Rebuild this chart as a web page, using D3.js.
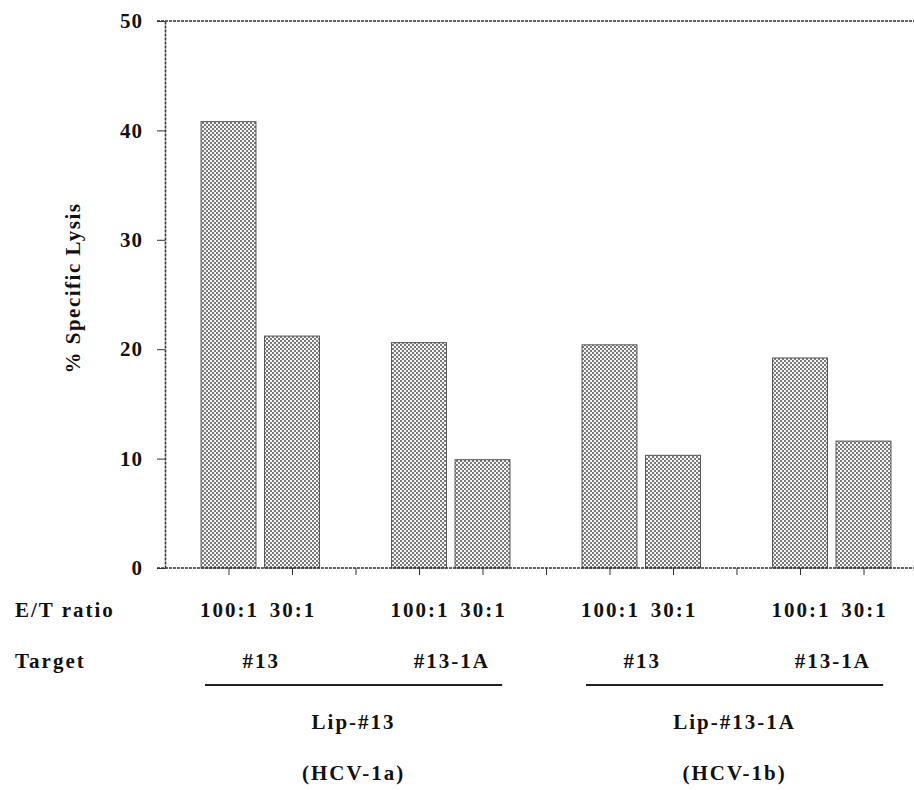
<!DOCTYPE html>
<html>
<head>
<meta charset="utf-8">
<script src="https://cdn.jsdelivr.net/npm/d3@7"></script>
<style>
  body { margin: 0; background: #fff; }
</style>
</head>
<body>
<div id="chart"></div>
<script>
// data
var ratios = ["100:1", "30:1"];
var targets = ["#13", "#13-1A", "#13", "#13-1A"];
var effectors = ["Lip-#13", "Lip-#13-1A"];
var strains = ["(HCV-1a)", "(HCV-1b)"];
var lysis = [40.8, 21.2, 20.6, 9.9, 20.4, 10.3, 19.2, 11.6];
var yTicks = [0, 10, 20, 30, 40, 50];

var W = 914, H = 790;
var serif = "'Liberation Serif'";

var svg = d3.select("#chart").append("svg")
  .attr("width", W)
  .attr("height", H);

// halftone fill like the scanned bars
var defs = svg.append("defs");
var pat = defs.append("pattern")
  .attr("id", "dots")
  .attr("patternUnits", "userSpaceOnUse")
  .attr("width", 4).attr("height", 4);
pat.append("rect").attr("width", 4).attr("height", 4).attr("fill", "#f4f4f4");
pat.append("rect").attr("x", 0).attr("y", 0).attr("width", 2).attr("height", 2).attr("fill", "#7a7a7a");
pat.append("rect").attr("x", 2).attr("y", 2).attr("width", 2).attr("height", 2).attr("fill", "#7a7a7a");

// one slot per bar, blank slot between targets
var x = d3.scaleLinear().domain([0, 12]).range([165, 927]);
var y = d3.scaleLinear().domain([0, 50]).range([568, 21]);
var step = x(1) - x(0);
var barW = step * 0.865;

var bars = lysis.map(function(v, i) {
  var t = Math.floor(i / 2), r = i % 2;
  return { value: v, slot: t * 3 + r + 1, ratio: ratios[r] };
});

svg.selectAll("rect.bar")
  .data(bars)
  .enter()
  .append("rect")
    .attr("class", "bar")
    .attr("x", function(d) { return x(d.slot) - barW / 2; })
    .attr("y", function(d) { return y(d.value); })
    .attr("width", barW)
    .attr("height", function(d) { return y(0) - y(d.value); })
    .attr("fill", "url(#dots)")
    .attr("stroke", "#555")
    .attr("stroke-width", 1);

// frame lines
var lineCol = "#333";
svg.append("line")
  .attr("x1", 157).attr("x2", W)
  .attr("y1", y(50)).attr("y2", y(50))
  .attr("stroke", lineCol).attr("stroke-width", 1.6)
  .attr("stroke-dasharray", "3,1");

// y axis
var yAxis = d3.axisLeft(y)
  .tickValues(yTicks)
  .tickSize(8)
  .tickSizeOuter(0)
  .tickPadding(14);
var gy = svg.append("g")
  .attr("transform", "translate(" + x(0) + ",0)")
  .call(yAxis);
gy.select(".domain").attr("stroke", lineCol).attr("stroke-width", 1.6).attr("stroke-dasharray", "3,1");
gy.selectAll(".tick line").attr("stroke", lineCol);
gy.selectAll(".tick text")
  .attr("font-family", serif)
  .attr("font-weight", "bold")
  .attr("font-size", 21)
  .attr("letter-spacing", "1px")
  .attr("fill", "#111");

// x axis
var xAxis = d3.axisBottom(x)
  .tickValues(d3.range(1, 12))
  .tickSize(7)
  .tickSizeOuter(0)
  .tickFormat("");
var gx = svg.append("g")
  .attr("transform", "translate(0," + y(0) + ")")
  .call(xAxis);
gx.select(".domain").remove();
gx.selectAll(".tick line").attr("stroke", lineCol);
svg.append("line")
  .attr("x1", 157).attr("x2", W)
  .attr("y1", y(0)).attr("y2", y(0))
  .attr("stroke", lineCol).attr("stroke-width", 1.6)
  .attr("stroke-dasharray", "3,1");

// shared text look
var txt = function(sel, spacing) {
  sel.attr("font-family", serif)
    .attr("font-weight", "bold")
    .attr("font-size", 21)
    .attr("letter-spacing", (spacing || 2) + "px")
    .attr("fill", "#111");
};

// y title
svg.append("text")
  .attr("transform", "translate(80,288) rotate(-90)")
  .attr("text-anchor", "middle")
  .call(txt, 1.5)
  .text("% Specific Lysis");

// category rows under the axis
svg.append("text").attr("x", 15).attr("y", 617).call(txt).text("E/T ratio");
svg.append("text").attr("x", 15).attr("y", 668).call(txt).text("Target");

svg.selectAll("text.ratio")
  .data(bars)
  .enter()
  .append("text")
    .attr("class", "ratio")
    .attr("x", function(d) { return x(d.slot) + 1; })
    .attr("y", 617)
    .attr("text-anchor", "middle")
    .call(txt)
    .text(function(d) { return d.ratio; });

svg.selectAll("text.target")
  .data(targets)
  .enter()
  .append("text")
    .attr("class", "target")
    .attr("x", function(d, i) { return x(i * 3 + 1.5) + 1; })
    .attr("y", 668)
    .attr("text-anchor", "middle")
    .call(txt)
    .text(function(d) { return d; });

// effector groups: underline + two label lines
var grp = svg.selectAll("g.eff")
  .data(effectors)
  .enter()
  .append("g")
    .attr("class", "eff");

grp.append("line")
  .attr("x1", function(d, i) { return x(i * 6 + 1 - 0.37); })
  .attr("x2", function(d, i) { return x(i * 6 + 5 + 0.31); })
  .attr("y1", 685).attr("y2", 685)
  .attr("stroke", "#222").attr("stroke-width", 2);

grp.append("text")
  .attr("x", function(d, i) { return x(i * 6 + 3 - 0.03); })
  .attr("y", 729)
  .attr("text-anchor", "middle")
  .call(txt)
  .text(function(d) { return d; });

grp.append("text")
  .attr("x", function(d, i) { return x(i * 6 + 3 - 0.03); })
  .attr("y", 780)
  .attr("text-anchor", "middle")
  .call(txt)
  .text(function(d, i) { return strains[i]; });
</script>
</body>
</html>
